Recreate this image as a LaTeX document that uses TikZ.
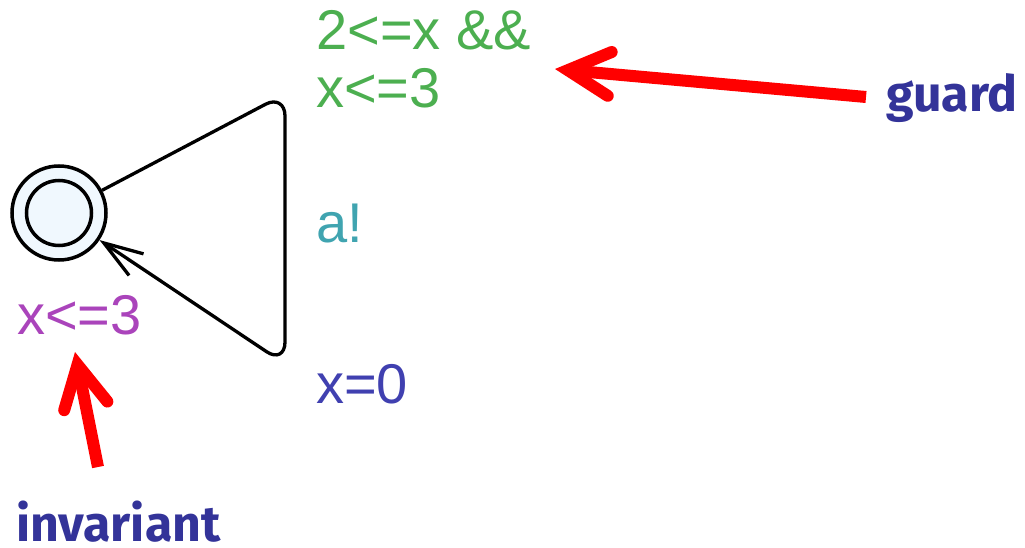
\documentclass[tikz,border=0pt]{standalone}
\usepackage{fontspec}
\setmainfont{Liberation Sans}
\newfontfamily\labelfont{Fira Sans}
\usetikzlibrary{arrows.meta}
\definecolor{guardgreen}{RGB}{76,175,80}
\definecolor{syncteal}{RGB}{64,164,176}
\definecolor{updblue}{RGB}{64,64,176}
\definecolor{invpurple}{RGB}{170,68,187}
\definecolor{labelblue}{RGB}{51,51,153}
\definecolor{statefill}{RGB}{240,248,254}
\definecolor{callred}{RGB}{255,0,0}
\tikzset{
  statebox/.style={circle, draw=black, line width=3.5pt, fill=statefill, inner sep=0pt, minimum size=94pt},
  innerbox/.style={circle, draw=black, line width=3.5pt, inner sep=0pt, minimum size=65pt},
  edgeline/.style={draw=black, line width=3.3pt, rounded corners=22pt, -{Straight Barb[length=39pt,width=26pt]}},
  exprtext/.style={inner sep=0pt, anchor=base west, font=\fontsize{56}{58}\selectfont, align=left},
  calltext/.style={inner sep=0pt, anchor=base west, text=labelblue, font=\labelfont\bfseries\fontsize{50}{56}\selectfont},
  callarrow/.style={draw=callred, line width=12pt, line cap=butt, -{Straight Barb[length=42pt,width=44pt,line cap=round,line join=miter]}}
}
\begin{document}
\begin{tikzpicture}[x=1pt,y=-1pt]
\useasboundingbox (0,0) rectangle (1025,548);
% state
\node[statebox] (s) at (59,213) {};
\node[innerbox] (sin) at (s.center) {};
% loop edge corners
\coordinate (c1) at (285,94);
\coordinate (c2) at (285,364);
\draw[edgeline] (s) -- (c1) -- (c2) -- (s);
% labels
\node[exprtext, text=guardgreen] (guardtxt) at (316,108) {2<=x \&\&\\x<=3};
\node[exprtext, text=syncteal] (synctxt) at (316,243) {a!};
\node[exprtext, text=updblue] (updtxt) at (316,403) {x=0};
\node[exprtext, text=invpurple] (invtxt) at (17,334) {x<=3};
% callouts
\node[calltext] (guard) at (886,112) {guard};
\node[calltext] (invariant) at (16,541) {invariant};
\coordinate (gstart) at (866,97);
\coordinate (gtip) at (555,69);
\coordinate (istart) at (98,467);
\coordinate (itip) at (75,352);
\draw[callarrow] (gstart) -- (gtip);
\draw[callarrow] (istart) -- (itip);
\end{tikzpicture}
\end{document}
